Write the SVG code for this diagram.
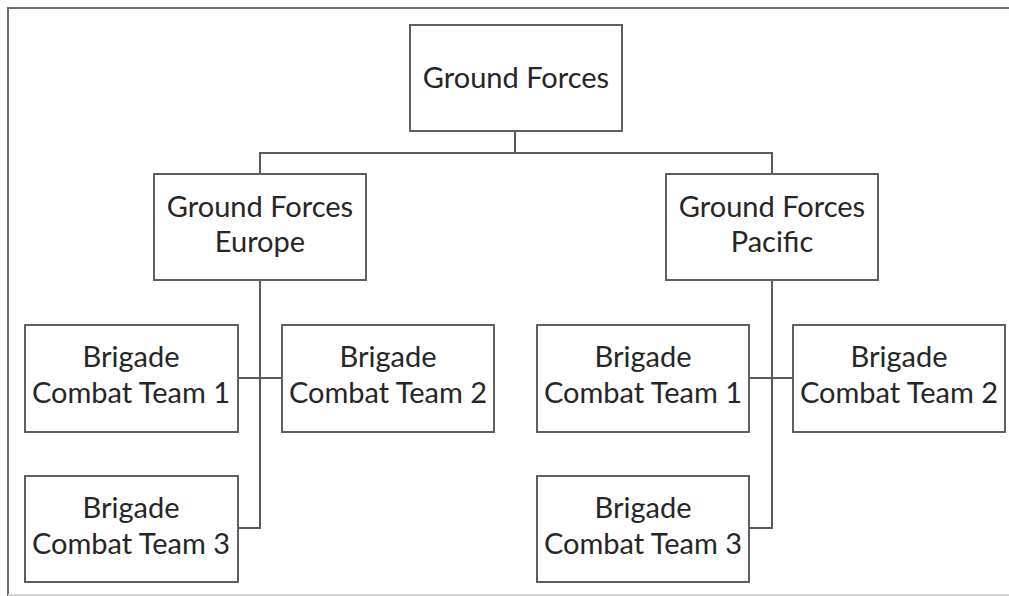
<svg xmlns="http://www.w3.org/2000/svg" width="1009" height="596" viewBox="0 0 1009 596">
  <style>
    .box { fill: #ffffff; stroke: #5f5f5f; stroke-width: 2; }
    .lbl { font-family: Lato, "Liberation Sans", sans-serif; font-size: 29px; fill: #262626; text-anchor: middle; }
    .wire { fill: none; stroke: #5a5a5a; stroke-width: 2; }
  </style>
  <rect x="0" y="0" width="1009" height="596" fill="#ffffff"/>
  <!-- page frame -->
  <g id="frame" fill="none">
    <path d="M1009 8 H8 V596" stroke="#6e6e6e" stroke-width="2"/>
    <line x1="8" y1="595" x2="1009" y2="595" stroke="#d4d4d4" stroke-width="2"/>
  </g>

  <g id="connectors" class="wire">
    <path d="M515 131 V153 M260 174 V153 H772 V174"/>
    <path d="M260 280 V528 H238 M238 378 H282"/>
    <path d="M772 280 V528 H749 M749 378 H793"/>
  </g>

  <g id="ground-forces">
    <rect class="box" x="410" y="25" width="212" height="106"/>
    <text class="lbl" x="516" y="88">Ground Forces</text>
  </g>

  <g id="gf-europe">
    <rect class="box" x="154" y="174" width="212" height="106"/>
    <text class="lbl" x="260" y="217">Ground Forces</text>
    <text class="lbl" x="260" y="252">Europe</text>
  </g>

  <g id="gf-pacific">
    <rect class="box" x="666" y="174" width="212" height="106"/>
    <text class="lbl" x="772" y="217">Ground Forces</text>
    <text class="lbl" x="772" y="252">Pacific</text>
  </g>

  <g id="eu-bct1">
    <rect class="box" x="25" y="325" width="213" height="107"/>
    <text class="lbl" x="131" y="367">Brigade</text>
    <text class="lbl" x="131" y="403">Combat Team 1</text>
  </g>

  <g id="eu-bct2">
    <rect class="box" x="282" y="325" width="212" height="107"/>
    <text class="lbl" x="388" y="367">Brigade</text>
    <text class="lbl" x="388" y="403">Combat Team 2</text>
  </g>

  <g id="eu-bct3">
    <rect class="box" x="25" y="476" width="213" height="106"/>
    <text class="lbl" x="131" y="518">Brigade</text>
    <text class="lbl" x="131" y="554">Combat Team 3</text>
  </g>

  <g id="pac-bct1">
    <rect class="box" x="537" y="325" width="212" height="107"/>
    <text class="lbl" x="643" y="367">Brigade</text>
    <text class="lbl" x="643" y="403">Combat Team 1</text>
  </g>

  <g id="pac-bct2">
    <rect class="box" x="793" y="325" width="212" height="107"/>
    <text class="lbl" x="899" y="367">Brigade</text>
    <text class="lbl" x="899" y="403">Combat Team 2</text>
  </g>

  <g id="pac-bct3">
    <rect class="box" x="537" y="476" width="212" height="106"/>
    <text class="lbl" x="643" y="518">Brigade</text>
    <text class="lbl" x="643" y="554">Combat Team 3</text>
  </g>
</svg>
